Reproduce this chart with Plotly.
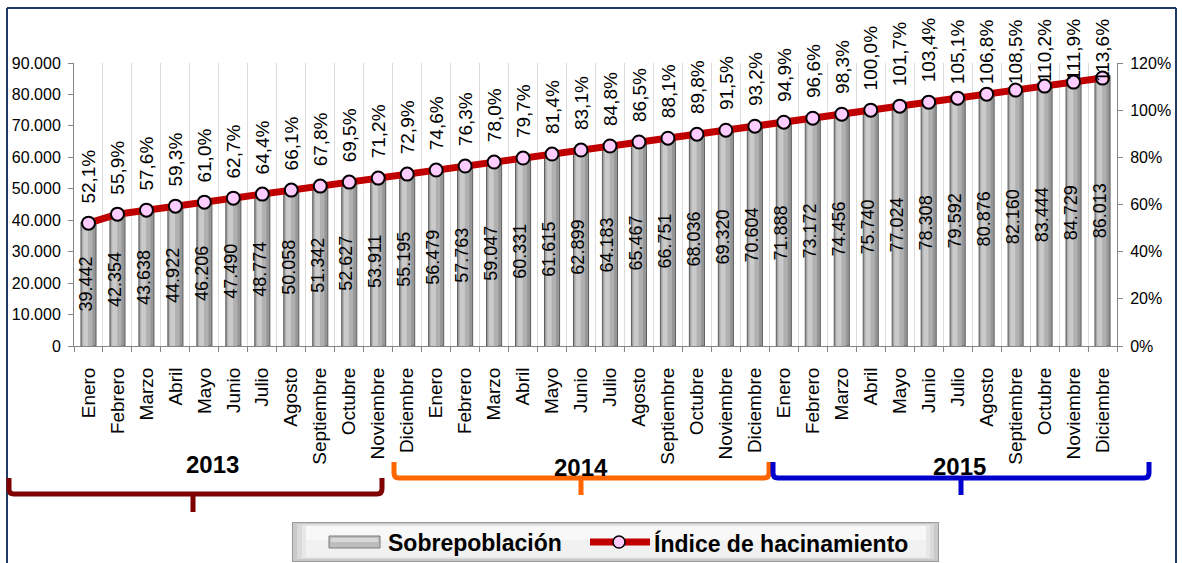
import plotly.graph_objects as go

# ---- data ----
meses = ["Enero", "Febrero", "Marzo", "Abril", "Mayo", "Junio", "Julio", "Agosto",
         "Septiembre", "Octubre", "Noviembre", "Diciembre"] * 3
sobrepoblacion = [39442, 42354, 43638, 44922, 46206, 47490, 48774, 50058, 51342,
                  52627, 53911, 55195, 56479, 57763, 59047, 60331, 61615, 62899,
                  64183, 65467, 66751, 68036, 69320, 70604, 71888, 73172, 74456,
                  75740, 77024, 78308, 79592, 80876, 82160, 83444, 84729, 86013]
indice = [52.1, 55.9, 57.6, 59.3, 61.0, 62.7, 64.4, 66.1, 67.8, 69.5, 71.2, 72.9,
          74.6, 76.3, 78.0, 79.7, 81.4, 83.1, 84.8, 86.5, 88.1, 89.8, 91.5, 93.2,
          94.9, 96.6, 98.3, 100.0, 101.7, 103.4, 105.1, 106.8, 108.5, 110.2, 111.9, 113.6]
anios = ["2013", "2014", "2015"]

# ---- page geometry (pixels) ----
W, H = 1182, 563
L, R, T, B = 74, 1117, 63, 346          # plot area edges


def px(xp):
    return (xp - L) / (R - L)


def py(yp):
    return (B - yp) / (B - T)


FONT = "Liberation Sans, Arial, sans-serif"

x = list(range(len(meses)))
etiquetas_barra = [f"{v:,}".replace(",", ".") for v in sobrepoblacion]
etiquetas_pct = [f"{p:.1f}%".replace(".", ",") for p in indice]

fig = go.Figure()

# cylinder-like bars: three overlaid layers of the same values
capas = [
    (-0.26, 0.52, "#979797", dict(color="#5E5E5E", width=1)),
    (-0.22, 0.36, "#B0B0B0", dict(width=0)),
    (-0.18, 0.17, "#CACACA", dict(width=0)),
]
for i, (off, w, col, ln) in enumerate(capas):
    ultimo = i == len(capas) - 1
    fig.add_trace(go.Bar(
        x=x, y=sobrepoblacion, offset=off, width=w,
        marker=dict(color=col, line=ln),
        text=etiquetas_barra if ultimo else None,
        textposition="inside" if ultimo else "none",
        insidetextanchor="middle", textangle=-90, constraintext="none",
        textfont=dict(family=FONT, size=18, color="#000000"),
        hoverinfo="skip" if not ultimo else None,
        name="Sobrepoblación", showlegend=False,
    ))

fig.add_trace(go.Scatter(
    x=x, y=indice, yaxis="y2", mode="lines+markers",
    line=dict(color="#C00000", width=7),
    marker=dict(size=13, color="#FFCCFF", line=dict(color="#000000", width=2)),
    name="Índice de hacinamiento", showlegend=False,
))

annotations = []
shapes = []

# percentage labels above each point, kept inside the chart area
cw = {",": 0.278, "%": 0.889}
for i, (p, t) in enumerate(zip(indice, etiquetas_pct)):
    largo = sum(cw.get(c, 0.556) for c in t) * 19
    marcador = B - p / 120 * (B - T)
    tope = marcador - 20 - largo
    base = dict(x=i, xref="x", text=t, textangle=-90, showarrow=False,
                font=dict(family=FONT, size=19, color="#000000"))
    if tope >= 17:
        base.update(y=p, yref="y2", yanchor="bottom", yshift=18)
    else:
        base.update(y=py(17), yref="paper", yanchor="top")
    annotations.append(base)

# outer frame
marco = "#1F3B64"
shapes += [
    dict(type="line", xref="paper", yref="paper", x0=px(7), x1=px(7), y0=py(8), y1=py(H + 5),
         line=dict(color=marco, width=2)),
    dict(type="line", xref="paper", yref="paper", x0=px(7), x1=px(1176), y0=py(8), y1=py(8),
         line=dict(color=marco, width=2)),
    dict(type="line", xref="paper", yref="paper", x0=px(1176), x1=px(1176), y0=py(8), y1=py(H + 5),
         line=dict(color=marco, width=2)),
]


def pt(a, b):
    return f"{px(a):.5f},{py(b):.5f}"


def llave(x0, x1, ytop, ylin, xc, ybot, color):
    r = 5
    path = (f"M {pt(x0, ytop)} L {pt(x0, ylin - r)} Q {pt(x0, ylin)} {pt(x0 + r, ylin)} "
            f"L {pt(x1 - r, ylin)} Q {pt(x1, ylin)} {pt(x1, ylin - r)} L {pt(x1, ytop)}")
    return [
        dict(type="path", xref="paper", yref="paper", path=path,
             line=dict(color=color, width=5)),
        dict(type="line", xref="paper", yref="paper", x0=px(xc), x1=px(xc),
             y0=py(ylin), y1=py(ybot), line=dict(color=color, width=5)),
    ]


llaves = [
    (9, 382, 478, 494, 193, 512, "#7F0000", 212, 464),
    (394, 769, 462, 478, 581, 495, "#FF6600", 581, 467),
    (773, 1149, 462, 478, 961, 495, "#0000CC", 959, 466),
]
for anio, (a, b, yt, yl, xc, yb, col, tx, ty) in zip(anios, llaves):
    shapes += llave(a, b, yt, yl, xc, yb, col)
    annotations.append(dict(x=px(tx), y=py(ty), xref="paper", yref="paper", text=f"<b>{anio}</b>",
                            showarrow=False, xanchor="center", yanchor="middle",
                            font=dict(family=FONT, size=24, color="#000000")))

# legend box with bevelled look
def rect(x0, y0, x1, y1, fill, line=None):
    return dict(type="rect", xref="paper", yref="paper", x0=px(x0), x1=px(x1),
                y0=py(y0), y1=py(y1), fillcolor=fill,
                line=line if line else dict(width=0), layer="above")


shapes += [
    rect(292, 522, 939, 562, "#9A9A9A"),
    rect(293, 523, 938, 561, "#C9C9C9"),
    rect(297, 524, 934, 559, "#DADADA"),
    rect(302, 525, 930, 558, "#E7E7E7"),
    rect(306, 526, 926, 557, "#F1F1F1"),
    rect(306, 526, 926, 540, "#F8F8F8"),
    rect(329, 536, 380, 548, "#BDBDBD", dict(color="#7A7A7A", width=1)),
    rect(331, 538, 378, 542, "#D9D9D9"),
    dict(type="line", xref="paper", yref="paper", x0=px(590), x1=px(650), y0=py(542), y1=py(542),
         line=dict(color="#C00000", width=7), layer="above"),
    dict(type="circle", xref="paper", yref="paper", x0=px(613), x1=px(625), y0=py(536), y1=py(548),
         fillcolor="#FFCCFF", line=dict(color="#000000", width=1.5), layer="above"),
]
for texto, xl in [("Sobrepoblación", 386), ("Índice de hacinamiento", 652)]:
    annotations.append(dict(x=px(xl), y=py(543), xref="paper", yref="paper", text=f"<b>{texto}</b>",
                            showarrow=False, xanchor="left", yanchor="middle",
                            font=dict(family=FONT, size=23, color="#000000")))

eje = "#868686"
fig.update_layout(
    width=W, height=H,
    margin=dict(l=L, r=W - R, t=T, b=H - B, pad=0),
    paper_bgcolor="#FFFFFF", plot_bgcolor="#FFFFFF",
    barmode="overlay", separators=",.",
    font=dict(family=FONT, color="#000000"),
    xaxis=dict(
        range=[-0.5, len(meses) - 0.5], tickmode="array", tickvals=x, ticktext=meses,
        tickangle=-90, ticks="", showgrid=False, zeroline=False,
        showline=True, linecolor=eje, linewidth=1,
        tickfont=dict(family=FONT, size=19, color="#000000"), ticklabelstandoff=13,
        minor=dict(tick0=-0.5, dtick=1, ticks="outside", ticklen=5, tickcolor=eje,
                   showgrid=True, gridcolor="#DCDCDC", gridwidth=1),
    ),
    yaxis=dict(
        range=[0, 90000], dtick=10000, tickformat=",d", showgrid=False, zeroline=False,
        showline=True, linecolor=eje, ticks="outside", ticklen=5, tickcolor=eje,
        tickfont=dict(family=FONT, size=16, color="#000000"), ticklabelstandoff=4,
    ),
    yaxis2=dict(
        range=[0, 120], dtick=20, ticksuffix="%", overlaying="y", side="right",
        showgrid=False, zeroline=False, showline=True, linecolor=eje,
        ticks="outside", ticklen=5, tickcolor=eje,
        tickfont=dict(family=FONT, size=16, color="#000000"), ticklabelstandoff=4,
    ),
    shapes=shapes, annotations=annotations, showlegend=False,
)

fig.write_html("out.html")
